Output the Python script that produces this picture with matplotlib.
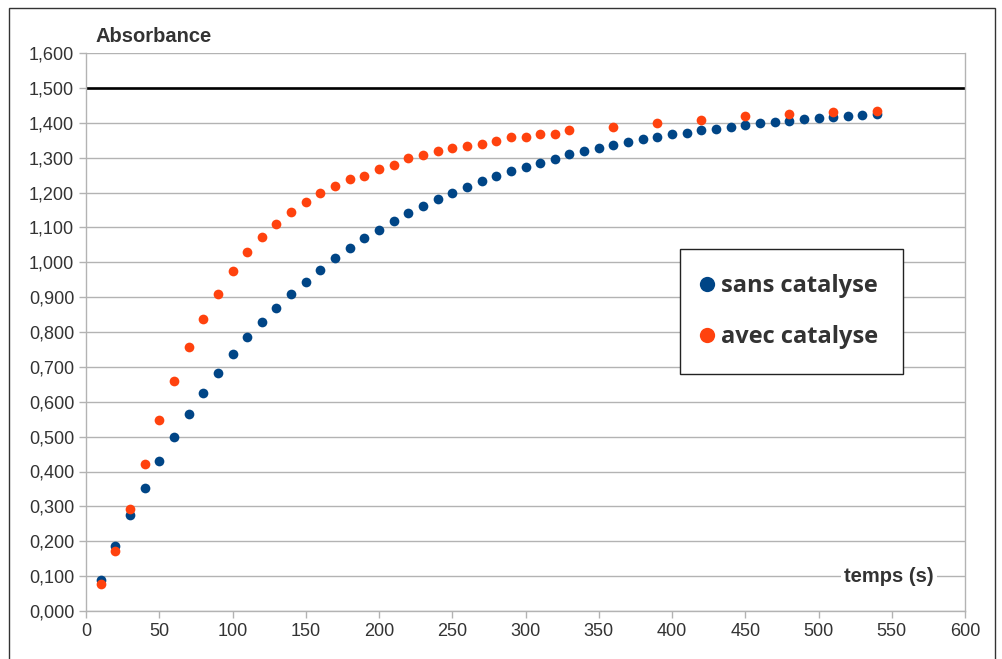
import matplotlib
matplotlib.use("Agg")
import matplotlib.pyplot as plt
from matplotlib.patches import Rectangle
from matplotlib.ticker import FuncFormatter, MultipleLocator
from matplotlib.lines import Line2D

# ---- data ----
t_sans = list(range(10, 550, 10))
a_sans = [0.090, 0.187, 0.276, 0.354, 0.431, 0.498, 0.564, 0.624, 0.682, 0.736,
          0.785, 0.829, 0.868, 0.908, 0.944, 0.979, 1.011, 1.041, 1.069, 1.093,
          1.118, 1.141, 1.160, 1.181, 1.198, 1.215, 1.232, 1.246, 1.261, 1.273,
          1.286, 1.297, 1.309, 1.318, 1.327, 1.336, 1.345, 1.352, 1.360, 1.367,
          1.372, 1.378, 1.382, 1.389, 1.394, 1.399, 1.401, 1.406, 1.410, 1.413,
          1.417, 1.420, 1.423, 1.425]
t_avec = list(range(10, 340, 10)) + [360, 390, 420, 450, 480, 510, 540]
a_avec = [0.078, 0.173, 0.293, 0.422, 0.547, 0.659, 0.757, 0.837, 0.908, 0.974,
          1.028, 1.071, 1.110, 1.143, 1.174, 1.198, 1.219, 1.238, 1.248, 1.268,
          1.279, 1.298, 1.307, 1.319, 1.328, 1.333, 1.338, 1.349, 1.358, 1.358,
          1.368, 1.369, 1.378,
          1.389, 1.398, 1.409, 1.419, 1.424, 1.430, 1.433]
limit_value = 1.5
series_labels = ["sans catalyse", "avec catalyse"]
y_label = "Absorbance"
x_label = "temps (s)"

BLUE = "#004586"
ORANGE = "#ff420e"
GRID = "#b3b3b3"
TXT = "#333333"

W, H = 1002, 659
fig = plt.figure(figsize=(W / 100, H / 100), dpi=100)
ax = fig.add_axes([86 / W, 48 / H, (965 - 86) / W, (611 - 53) / H])

ax.set_xlim(0, 600)
ax.set_ylim(0, 1.6)
ax.xaxis.set_major_locator(MultipleLocator(50))
ax.yaxis.set_major_locator(MultipleLocator(0.1))
ax.yaxis.set_major_formatter(FuncFormatter(lambda v, p: f"{v:.3f}".replace(".", ",")))
ax.grid(axis="y", color=GRID, linewidth=1.0)
ax.set_axisbelow(True)
for s in ["left", "bottom", "right"]:
    ax.spines[s].set_color(GRID)
    ax.spines[s].set_linewidth(1.0)
ax.spines["top"].set_visible(False)
ax.tick_params(axis="both", direction="out", length=5, color=GRID, width=1.0,
               labelcolor=TXT, labelsize=13)
for lab in ax.get_xticklabels() + ax.get_yticklabels():
    lab.set_fontfamily("Liberation Sans")

ax.axhline(limit_value, color="black", linewidth=1.9, zorder=2)

ax.plot(t_sans, a_sans, "o", color=BLUE, markersize=7, markeredgewidth=0, zorder=3)
ax.plot(t_avec, a_avec, "o", color=ORANGE, markersize=7, markeredgewidth=0, zorder=3)

# axis titles with white background
fig.text(96 / W, 1 - 37 / H, y_label, fontsize=14.5, fontweight="bold", color=TXT,
         family="Liberation Sans", va="center", ha="left",
         bbox=dict(facecolor="white", edgecolor="none", pad=2))
ax.text((889 - 86) / 1.465, 0.1, x_label, transform=ax.transData,
        fontsize=14.5, fontweight="bold", color=TXT, family="Liberation Sans",
        va="center", ha="center", zorder=4,
        bbox=dict(facecolor="white", edgecolor="none", pad=2))

# legend box
handles = [Line2D([], [], marker="o", linestyle="none", color=c, markersize=11,
                  markeredgewidth=0) for c in (BLUE, ORANGE)]
leg = ax.legend(handles, series_labels, loc="upper left",
                bbox_to_anchor=((680 - 86) / (965 - 86), (611 - 249) / (611 - 53)),
                frameon=True, fancybox=False, edgecolor="#222222", framealpha=1,
                prop=dict(family="Open Sans", weight="bold", size=17),
                handletextpad=0.55, handlelength=0.15, borderpad=1.05,
                labelspacing=1.15, borderaxespad=0)
leg.get_frame().set_linewidth(1.0)
for t in leg.get_texts():
    t.set_color(TXT)

# outer frame
fig.patches.append(Rectangle((9 / W, -0.05), (995 - 9) / W, 1.05 - 8 / H,
                             transform=fig.transFigure, fill=False,
                             edgecolor="#333333", linewidth=1.0))

fig.savefig("out.png", dpi=100)
